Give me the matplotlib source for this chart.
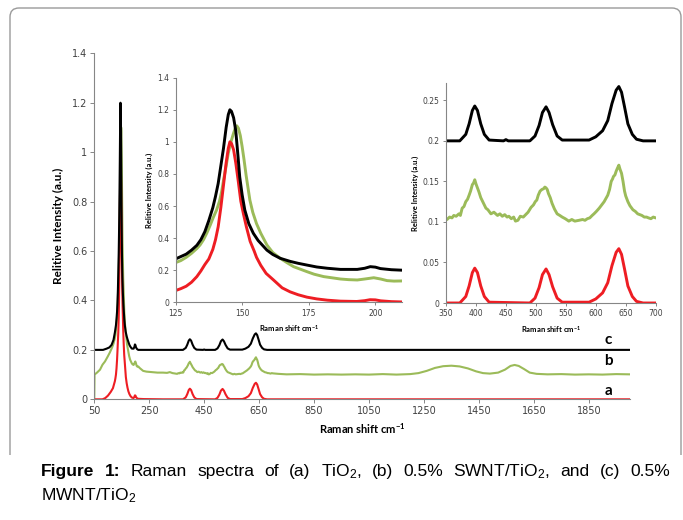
import matplotlib
import matplotlib.pyplot as plt
from matplotlib.patches import FancyBboxPatch, Rectangle
from matplotlib.transforms import IdentityTransform

matplotlib.use("Agg")

# Raman spectra: shift (cm-1) and relative intensity
red_shift = [50, 80, 90, 100, 110, 118, 125, 127, 129, 131, 133, 134.5, 136, 137.5, 139, 140,
             141, 142, 143, 144, 144.8, 145.4, 146, 146.8, 147.6, 148.5, 149.5, 150.5, 151.6,
             153, 154.5, 155.4, 157, 159, 161.7, 165, 168, 171, 174.3, 178, 182, 186.9, 193,
             196, 198, 200, 202, 206, 210, 230, 300, 373, 383, 388.6, 394, 398, 402.5, 408,
             414, 422, 490, 498.6, 505.4, 511, 517, 522, 528, 535.5, 544, 588.8, 600, 611.4,
             620, 627, 634, 638.5, 643, 648, 653.6, 661, 668, 679, 2000]
red_int = [0, 0, 0.005, 0.015, 0.03, 0.045, 0.073, 0.085, 0.1, 0.125, 0.16, 0.195, 0.235, 0.27,
           0.33, 0.39, 0.47, 0.59, 0.73, 0.87, 0.96, 1.0, 0.99, 0.95, 0.87, 0.76, 0.63, 0.55,
           0.47, 0.38, 0.32, 0.28, 0.23, 0.18, 0.14, 0.09, 0.065, 0.047, 0.032, 0.021, 0.013,
           0.007, 0.005, 0.01, 0.016, 0.015, 0.009, 0.004, 0.002, 0.001, 0, 0, 0.008, 0.021,
           0.0375, 0.043, 0.0375, 0.021, 0.008, 0.001, 0, 0.006, 0.019, 0.035, 0.042, 0.035,
           0.02, 0.006, 0.001, 0.001, 0.005, 0.0125, 0.025, 0.046, 0.0625, 0.067, 0.06, 0.042,
           0.021, 0.008, 0.002, 0, 0]

black_shift = [50, 82, 95, 105, 113, 120, 125, 127, 129, 131, 133, 134.5, 136, 137.5, 139, 140,
               141, 142, 143, 144, 144.8, 145.4, 146, 146.8, 147.6, 148.5, 149.1, 150, 151,
               152.5, 154.2, 156, 159.3, 161.5, 164.3, 168, 171, 174.3, 178, 182, 186.9, 193.2,
               196, 198.1, 200, 201.9, 206, 210, 373, 383, 388.6, 394, 398, 402.5, 408, 414,
               422, 446, 450, 454, 490, 498.6, 505.4, 511, 517, 522, 528, 535.5, 544, 588.8, 600,
               611.4, 620, 627, 634, 638.5, 643, 648, 653.6, 661, 668, 679, 2000]
black_int = [0.2, 0.2, 0.205, 0.21, 0.22, 0.24, 0.27, 0.285, 0.3, 0.325, 0.355, 0.39, 0.44,
             0.51, 0.59, 0.66, 0.74, 0.85, 0.96, 1.09, 1.17, 1.2, 1.19, 1.15, 1.07, 0.9, 0.78,
             0.67, 0.575, 0.49, 0.43, 0.385, 0.325, 0.298, 0.274, 0.255, 0.243, 0.232, 0.22,
             0.212, 0.205, 0.205, 0.212, 0.222, 0.219, 0.21, 0.203, 0.2, 0.2, 0.208, 0.221,
             0.2375, 0.243, 0.2375, 0.221, 0.208, 0.201, 0.2, 0.2015, 0.2, 0.2, 0.206, 0.219,
             0.235, 0.242, 0.235, 0.22, 0.206, 0.201, 0.201, 0.205, 0.2125, 0.225, 0.246, 0.2625,
             0.267, 0.26, 0.242, 0.221, 0.208, 0.202, 0.2, 0.2]

green_shift = [50, 51, 60, 71, 80, 89, 100, 107, 115, 120, 125, 127, 129, 131, 133, 134.2,
               135.5, 136.7, 138, 139.2, 140.4, 141.5, 142.3, 143, 144, 144.8, 145.8, 146.7,
               147.4, 148, 148.6, 149.3, 150, 150.7, 151.5, 152.3, 152.9, 154, 155.4, 157,
               159.3, 161.5, 164.3, 167, 169.3, 172, 174.3, 177, 180.6, 184, 186.9, 190, 193.2,
               196, 199.4, 202, 204.4, 207, 210, 216, 228, 240, 260, 280, 300, 315, 325,
               335, 351.7, 356, 360, 363, 367, 371.5, 374, 377, 380, 383, 386, 388.6, 391, 394,
               396, 398, 400, 402.5, 405, 408, 412, 416.6, 420, 425, 430, 436, 440, 444, 448,
               452, 455, 459, 463, 466, 470, 474, 479, 483, 487, 492, 496, 499, 501.6, 504, 507,
               510, 513, 515, 517, 519, 521, 524, 527, 531, 535.5, 540, 544, 549, 555, 560, 565,
               572, 578, 582, 586, 590, 594, 597, 601, 605.8, 610, 614, 617, 620, 623, 625.8,
               628, 629.5, 632, 634, 636, 638.5, 640.5, 643, 645.5, 648, 650, 653.6, 657, 662,
               666, 670, 673.5, 677, 681, 684.8, 688, 692, 696, 700, 720, 750, 800, 850, 900,
               950, 1000, 1050, 1100, 1150, 1200, 1230, 1260, 1290, 1320, 1350, 1380, 1410,
               1440, 1465, 1490, 1520, 1545, 1565, 1580, 1595, 1615, 1635, 1660, 1700, 1750,
               1800, 1850, 1900, 1950, 2000]
green_int = [0, 0.1, 0.108, 0.12, 0.14, 0.153, 0.175, 0.19, 0.21, 0.225, 0.247, 0.26, 0.28,
             0.305, 0.335, 0.357, 0.39, 0.43, 0.48, 0.53, 0.575, 0.63, 0.69, 0.76, 0.85, 0.93,
             1.0, 1.05, 1.085, 1.1, 1.085, 1.04, 0.97, 0.89, 0.79, 0.7, 0.637, 0.56, 0.49, 0.43,
             0.357, 0.31, 0.274, 0.245, 0.222, 0.205, 0.191, 0.175, 0.16, 0.152, 0.145, 0.141,
             0.139, 0.145, 0.153, 0.145, 0.135, 0.132, 0.133, 0.126, 0.115, 0.112,
             0.11, 0.108, 0.108, 0.107, 0.11, 0.106, 0.103, 0.106, 0.105, 0.108, 0.107, 0.11,
             0.108, 0.117, 0.119, 0.125, 0.128, 0.133, 0.138, 0.146, 0.148, 0.152, 0.147, 0.142,
             0.137, 0.13, 0.124, 0.117, 0.115, 0.11, 0.112, 0.108, 0.11, 0.107, 0.109, 0.106,
             0.107, 0.104, 0.106, 0.101, 0.102, 0.107, 0.106, 0.109, 0.112, 0.118, 0.121, 0.125,
             0.127, 0.133, 0.138, 0.14, 0.141, 0.143, 0.142, 0.14, 0.135, 0.13, 0.123, 0.116,
             0.11, 0.108, 0.106, 0.104, 0.101, 0.103, 0.101, 0.102, 0.103, 0.102, 0.104, 0.105,
             0.108, 0.11, 0.113, 0.117, 0.121, 0.125, 0.129, 0.133, 0.14, 0.15, 0.153, 0.156,
             0.158, 0.1625, 0.166, 0.17, 0.165, 0.16, 0.15, 0.138, 0.132, 0.125, 0.12, 0.115,
             0.113, 0.11, 0.109, 0.108, 0.106, 0.106, 0.105, 0.104, 0.106, 0.105, 0.103, 0.101,
             0.102, 0.1, 0.101, 0.1, 0.101, 0.1, 0.102, 0.1, 0.102, 0.106, 0.115, 0.127, 0.134,
             0.136, 0.133, 0.125, 0.113, 0.106, 0.104, 0.108, 0.12, 0.135, 0.139, 0.135, 0.122,
             0.108, 0.103, 0.101, 0.102, 0.1, 0.101, 0.1, 0.102, 0.101]

main_xticks = [50, 250, 450, 650, 850, 1050, 1250, 1450, 1650, 1850]
main_yticks = [0, 0.2, 0.4, 0.6, 0.8, 1, 1.2, 1.4]
inset1_xticks = [125, 150, 175, 200]
inset2_xticks = [350, 400, 450, 500, 550, 600, 650, 700]
inset2_yticks = [0, 0.05, 0.1, 0.15, 0.2, 0.25]
curve_letters = ["a", "b", "c"]
letter_y = [0.034, 0.156, 0.24]

RED = "#EE1D23"
GREEN = "#9BBB59"
BLACK = "#000000"
SPINE = "#868686"
TICKTXT = "#404040"

plt.rcParams["mathtext.default"] = "regular"

fig = plt.figure(figsize=(6.83, 5.2), dpi=100)


def style_axes(ax, tick_size, tick_len):
    for side in ("top", "right"):
        ax.spines[side].set_visible(False)
    for side in ("left", "bottom"):
        ax.spines[side].set_color(SPINE)
        ax.spines[side].set_linewidth(0.8)
    ax.tick_params(axis="both", direction="out", length=tick_len, width=0.7,
                   color=SPINE, labelsize=tick_size, labelcolor=TICKTXT, pad=2)
    ax.patch.set_alpha(0)


def plot_series(ax, lw):
    ax.plot(green_shift, green_int, color=GREEN, lw=lw, solid_joinstyle="round")
    ax.plot(red_shift, red_int, color=RED, lw=lw, solid_joinstyle="round")
    ax.plot(black_shift, black_int, color=BLACK, lw=lw, solid_joinstyle="round")


# main spectrum
ax = fig.add_axes([0.138, 0.2321, 0.7844, 0.6654])
plot_series(ax, 1.5)
ax.set_xlim(50, 2000)
ax.set_ylim(0, 1.4)
ax.set_xticks(main_xticks)
ax.set_yticks(main_yticks)
ax.set_yticklabels([f"{v:g}" for v in main_yticks])
style_axes(ax, 7, 3)
ax.set_ylabel("Relitive Intensity (a.u.)", fontsize=8.5, fontweight="bold",
              family="Lato", labelpad=6)
ax.set_xlabel("Raman shift cm$^{-1}$", fontsize=8, fontweight="bold",
              family="Lato", labelpad=4)
for letter, yv in zip(curve_letters, letter_y):
    ax.text(1922, yv, letter, fontsize=11, fontweight="bold", family="Lato",
            ha="center", va="center")

# inset around the main Eg peak
ax1 = fig.add_axes([0.257, 0.4187, 0.3316, 0.4319])
plot_series(ax1, 2.1)
ax1.set_xlim(125, 210)
ax1.set_ylim(0, 1.4)
ax1.set_xticks(inset1_xticks)
ax1.set_yticks(main_yticks)
ax1.set_yticklabels([f"{v:g}" for v in main_yticks])
style_axes(ax1, 5.5, 2.5)
ax1.set_ylabel("Relitive Intensity (a.u.)", fontsize=5.5, fontweight="bold",
               family="Lato", labelpad=3)
ax1.set_xlabel("Raman shift cm$^{-1}$", fontsize=5.5, fontweight="bold",
               family="Lato", labelpad=4)

# inset for the 350-700 region
ax2 = fig.add_axes([0.653, 0.4173, 0.307, 0.4225])
plot_series(ax2, 2.1)
ax2.set_xlim(350, 700)
ax2.set_ylim(0, 0.271)
ax2.set_xticks(inset2_xticks)
ax2.set_yticks(inset2_yticks)
ax2.set_yticklabels([f"{v:g}" for v in inset2_yticks])
style_axes(ax2, 5.5, 2.5)
ax2.set_ylabel("Relitive Intensity (a.u.)", fontsize=5.5, fontweight="bold",
               family="Lato", labelpad=3)
ax2.set_xlabel("Raman shift cm$^{-1}$", fontsize=5.5, fontweight="bold",
               family="Lato", labelpad=4)

# rounded frame (bottom edge hidden)
frame = FancyBboxPatch((10, 40), 671, 472, boxstyle="round,pad=0,rounding_size=9",
                       transform=IdentityTransform(), fill=False, ec="#9A9A9A", lw=1.0)
clip = Rectangle((0, 65), 683, 460, transform=IdentityTransform())
frame.set_clip_path(clip)
fig.patches.append(frame)

# caption, first line justified
cap_font = dict(family="Liberation Sans", fontsize=12.5)
words = ["Figure", "1:", "Raman", "spectra", "of", "(a)", "TiO$_2$,", "(b)", "0.5%",
         "SWNT/TiO$_2$,", "and", "(c)", "0.5%"]
renderer = fig.canvas.get_renderer()
texts = []
for i, w in enumerate(words):
    t = fig.text(0, 0, w, transform=IdentityTransform(), va="baseline",
                 fontweight="bold" if i < 2 else "normal", **cap_font)
    texts.append(t)
widths = [t.get_window_extent(renderer).width for t in texts]
left, right = 41, 670
gap = (right - left - sum(widths)) / (len(words) - 1)
xpos = left
for t, wdt in zip(texts, widths):
    t.set_position((xpos, 520 - 476))
    xpos += wdt + gap
fig.text(left, 520 - 500, "MWNT/TiO$_2$", transform=IdentityTransform(),
         va="baseline", **cap_font)

fig.savefig("out.png", dpi=100)
